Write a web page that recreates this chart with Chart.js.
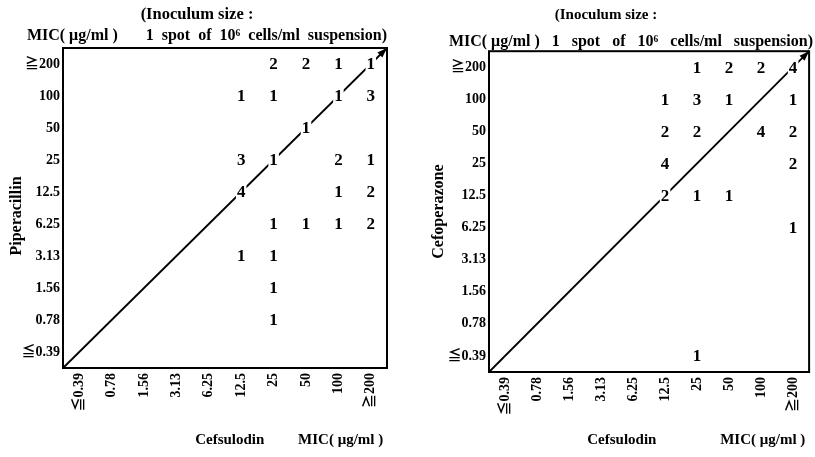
<!DOCTYPE html>
<html><head><meta charset="utf-8">
<script src="https://cdn.jsdelivr.net/npm/chart.js@4.4.1/dist/chart.umd.min.js"></script>
<style>
html,body{margin:0;padding:0;background:#fff;}
#wrap{position:relative;width:815px;height:457px;overflow:hidden;background:#fff;}
canvas{position:absolute;top:0;}
#c1{left:0;} #c2{left:407px;}
</style></head><body>
<div id="wrap"><canvas id="c1" width="407" height="457"></canvas><canvas id="c2" width="408" height="457"></canvas></div>
<script>
// MIC categories (both axes), low -> high
const micLabels = ['≦0.39','0.78','1.56','3.13','6.25','12.5','25','50','100','≧200'];

// Number of strains; rows = y-axis MIC from ≧200 (top) down to ≦0.39 (bottom),
// columns = Cefsulodin MIC from ≦0.39 to ≧200
const piperacillinCounts = [
  [0,0,0,0,0,0,2,2,1,1],
  [0,0,0,0,0,1,1,0,1,3],
  [0,0,0,0,0,0,0,1,0,0],
  [0,0,0,0,0,3,1,0,2,1],
  [0,0,0,0,0,4,0,0,1,2],
  [0,0,0,0,0,0,1,1,1,2],
  [0,0,0,0,0,1,1,0,0,0],
  [0,0,0,0,0,0,1,0,0,0],
  [0,0,0,0,0,0,1,0,0,0],
  [0,0,0,0,0,0,0,0,0,0]
];
const cefoperazoneCounts = [
  [0,0,0,0,0,0,1,2,2,4],
  [0,0,0,0,0,1,3,1,0,1],
  [0,0,0,0,0,2,2,0,4,2],
  [0,0,0,0,0,4,0,0,0,2],
  [0,0,0,0,0,2,1,1,0,0],
  [0,0,0,0,0,0,0,0,0,1],
  [0,0,0,0,0,0,0,0,0,0],
  [0,0,0,0,0,0,0,0,0,0],
  [0,0,0,0,0,0,0,0,0,0],
  [0,0,0,0,0,0,1,0,0,0]
];

const titleLine1 = '(Inoculum size :';
const subtitleLeft = 'MIC( μg/ml )       1  spot  of  10⁶  cells/ml  suspension)';
const subtitleRight = 'MIC( μg/ml )   1   spot   of   10⁶   cells/ml   suspension)';
const xTitleLeft = 'Cefsulodin         MIC( μg/ml ) ';
const xTitleRight = 'Cefsulodin                 MIC( μg/ml ) ';
const yTitleLeft = 'Piperacillin\u00a0\u00a0\u00a0\u00a0';
const yTitleRight = 'Cefoperazone';

const FAMILY = '"Liberation Serif", "Noto Sans CJK JP", serif';

const frameAndArrow = {
  id: 'frameAndArrow',
  afterDatasetsDraw(chart) {
    const {ctx, chartArea: a} = chart;
    ctx.save();
    ctx.strokeStyle = '#000';
    ctx.lineWidth = 2;
    ctx.strokeRect(a.left, a.top, a.right - a.left, a.bottom - a.top);
    const m = chart.getDatasetMeta(0).data;
    const p0 = m[0], p1 = m[m.length - 1];
    const ang = Math.atan2(p1.y - p0.y, p1.x - p0.x);
    const L = 10, W = 3.5;
    const bx = p1.x - L * Math.cos(ang), by = p1.y - L * Math.sin(ang);
    ctx.beginPath();
    ctx.moveTo(p1.x, p1.y);
    ctx.lineTo(bx + W * Math.sin(ang), by - W * Math.cos(ang));
    ctx.lineTo(bx - W * Math.sin(ang), by + W * Math.cos(ang));
    ctx.closePath();
    ctx.fillStyle = '#000';
    ctx.fill();
    ctx.restore();
  }
};

const cellLabels = {
  id: 'cellLabels',
  afterDatasetsDraw(chart) {
    const ctx = chart.ctx;
    const meta = chart.getDatasetMeta(1);
    const ds = chart.data.datasets[1];
    ctx.save();
    ctx.font = 'bold 17px ' + FAMILY;
    ctx.textAlign = 'center';
    ctx.textBaseline = 'middle';
    meta.data.forEach((pt, i) => {
      const txt = String(ds.data[i].n);
      const w = ctx.measureText(txt).width;
      ctx.fillStyle = '#fff';
      ctx.fillRect(pt.x - w / 2 - 1, pt.y - 7, w + 2, 15);
      ctx.fillStyle = '#000';
      ctx.fillText(txt, pt.x, pt.y + 1);
    });
    ctx.restore();
  }
};

function makeChart(id, counts, yTitle, xTitle, cfg) {
  const n = micLabels.length;
  const points = [];
  counts.forEach((row, r) => row.forEach((v, c) => {
    if (v > 0) points.push({x: c, y: n - 1 - r, n: v});
  }));
  const lo = -0.5, hi = n - 0.5;
  const tickFont = {family: FAMILY, size: 14, weight: 'bold'};
  const axisTitleFont = {family: FAMILY, size: 15, weight: 'bold', lineHeight: 1.2};
  const setTicks = s => { s.ticks = micLabels.map((_, i) => ({value: i})); };
  return new Chart(document.getElementById(id), {
    type: 'scatter',
    data: {
      datasets: [
        {type: 'line', data: [{x: lo, y: lo}, {x: hi, y: hi}], borderColor: '#000', borderWidth: 1.8,
         pointRadius: 0, fill: false, clip: false},
        {data: points, pointRadius: 0, pointHoverRadius: 0, backgroundColor: '#000'}
      ]
    },
    options: {
      responsive: false,
      animation: false,
      events: [],
      layout: {padding: {top: 0, right: cfg.padRight, bottom: 8, left: cfg.padLeft}},
      scales: {
        x: {
          type: 'linear', min: lo, max: hi,
          afterBuildTicks: setTicks,
          afterFit: s => { s.height = cfg.xH; },
          grid: {display: false, drawTicks: false},
          border: {display: false},
          ticks: {autoSkip: false, minRotation: 90, maxRotation: 90, padding: 5, color: '#000', font: tickFont,
                  callback: v => micLabels[v]},
          title: {display: true, text: xTitle, align: 'end', padding: 0, color: '#000', font: axisTitleFont}
        },
        y: {
          type: 'linear', min: lo, max: hi,
          afterBuildTicks: setTicks,
          afterFit: s => { s.width = cfg.yW; },
          grid: {display: false, drawTicks: false},
          border: {display: false},
          ticks: {padding: 3, color: '#000', font: tickFont, callback: v => micLabels[v]},
          title: {display: true, text: yTitle, padding: 0, color: '#000',
                  font: {family: FAMILY, size: 16, weight: 'bold', lineHeight: 1.2}}
        }
      },
      plugins: {
        legend: {display: false},
        tooltip: {enabled: false},
        title: {display: true, text: cfg.t1, align: 'center', color: '#000',
                font: {family: FAMILY, size: cfg.t1Size, weight: 'bold', lineHeight: 1.2},
                padding: {top: cfg.t1Top, bottom: 0}},
        subtitle: {display: true, text: cfg.sub, align: 'end', color: '#000',
                   font: {family: FAMILY, size: 16, weight: 'bold', lineHeight: 1.2},
                   padding: {top: cfg.subTop, bottom: cfg.subBottom}}
      }
    },
    plugins: [frameAndArrow, cellLabels]
  });
}

makeChart('c1', piperacillinCounts, yTitleLeft, xTitleLeft,
  {padLeft: 7, padRight: 20, yW: 56, xH: 81, t1Size: 16.5, t1Top: 5, subTop: 1, subBottom: 3,
   t1: titleLine1, sub: subtitleLeft});
makeChart('c2', cefoperazoneCounts, yTitleRight, xTitleRight,
  {padLeft: 22, padRight: 2, yW: 60, xH: 77, t1Size: 15, t1Top: 6, subTop: 8, subBottom: 0,
   t1: titleLine1 + '\u00a0'.repeat(8), sub: subtitleRight});
</script>
</body></html>
